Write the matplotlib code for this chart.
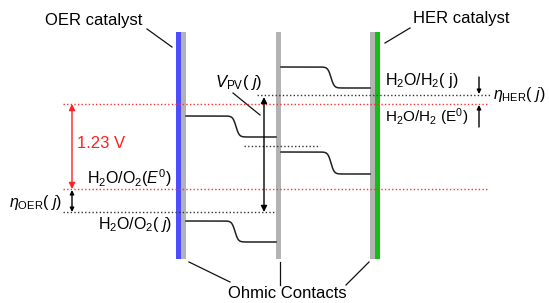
import numpy as np
import matplotlib.pyplot as plt
from matplotlib.patches import Rectangle

plt.rcParams['font.family'] = ['Liberation Sans', 'DejaVu Sans']
plt.rcParams['mathtext.fontset'] = 'custom'
plt.rcParams['mathtext.rm'] = 'Liberation Sans'
plt.rcParams['mathtext.it'] = 'Liberation Sans:italic'
plt.rcParams['mathtext.bf'] = 'Liberation Sans:bold'

# electrode / contact layers (pixel columns of the schematic)
layer_x = [176, 181, 276, 370, 375]
layer_w = [5, 5, 5, 5, 5]
layer_colors = ['#4d4dff', '#b3b3b3', '#b3b3b3', '#b3b3b3', '#12bf12']
layer_top, layer_bottom = 32, 259

# potential levels (rows, top = more negative)
y_her_j = 95      # H2O/H2 (j)
y_her_0 = 104     # H2O/H2 (E0)
y_oer_0 = 189     # H2O/O2 (E0)
y_oer_j = 212     # H2O/O2 (j)
y_mid = 146       # quasi-Fermi level between cells

# band edges: x start, x end, high level, low level, step centre
bands = [
    (186, 276, 116, 137, 236),
    (186, 276, 221, 242, 235),
    (281, 370, 67, 88, 331),
    (281, 370, 152, 174, 331),
]

red_dotted = [(63, 488, y_her_0), (63, 488, y_oer_0)]
black_dotted = [(257, 490, y_her_j), (63, 275, y_oer_j), (244, 320, y_mid)]

leaders = [
    ((147, 29), (172, 47)),
    ((410, 28), (385, 43)),
    ((233, 93), (260, 115)),
    ((189, 262), (230, 282)),
    ((280, 262), (280, 285)),
    ((369, 262), (346, 285)),
]

fig = plt.figure(figsize=(5.49, 3.03), dpi=100)
ax = fig.add_axes([0, 0, 1, 1])
ax.set_xlim(0, 549)
ax.set_ylim(303, 0)
ax.axis('off')

for x, w, c in zip(layer_x, layer_w, layer_colors):
    ax.add_patch(Rectangle((x, layer_top), w, layer_bottom - layer_top, color=c, lw=0, zorder=2))

for x0, x1, hi, lo, xc in bands:
    xs = np.linspace(x0, x1, 300)
    ys = hi + (lo - hi) * 0.5 * (1 + np.tanh((xs - xc) / 3.2))
    ax.plot(xs, ys, color='#222222', lw=1.1, zorder=3)

for x0, x1, y in red_dotted:
    ax.plot([x0, x1], [y, y], color='#ff3030', lw=1.0, ls=(0, (1, 1.6)), zorder=4)
for x0, x1, y in black_dotted:
    ax.plot([x0, x1], [y, y], color='#333333', lw=1.0, ls=(0, (1, 1.6)), zorder=4)

for (xa, ya), (xb, yb) in leaders:
    ax.plot([xa, xb], [ya, yb], color='#111111', lw=0.9, zorder=3)


def arrow(x, y_tail, y_tip, color='black', style='-|>', scale=8):
    ax.annotate('', xy=(x, y_tip), xytext=(x, y_tail),
                arrowprops=dict(arrowstyle=style, color=color, lw=1.0,
                                shrinkA=0, shrinkB=0, mutation_scale=scale),
                zorder=5)


arrow(264, 212, 97, style='<|-|>', scale=9)
arrow(72, y_oer_0, y_her_0, color='#ff2020', style='<|-|>', scale=9)
arrow(72, y_oer_j, y_oer_0 + 1, style='<|-|>', scale=6)
arrow(479, 77, y_her_j - 1, scale=6)
arrow(479, 127, y_her_0 + 1, scale=6)

fs = 12
ax.text(45, 20, 'OER catalyst', fontsize=fs, va='center', ha='left')
ax.text(413, 18, 'HER catalyst', fontsize=fs, va='center', ha='left')
ax.text(228, 294, 'Ohmic Contacts', fontsize=fs, va='center', ha='left')
ax.text(77, 143, '1.23 V', fontsize=fs, va='center', ha='left', color='#ff2020')
ax.text(62, 202, r'$\eta_{\rm OER}$( $j$)', fontsize=11.5, va='center', ha='right')
ax.text(215, 82, r'$V_{\rm PV}$( $j$)', fontsize=fs, va='center', ha='left')
ax.text(172, 178, r'H$_2$O/O$_2$($E^0$)', fontsize=11.5, va='center', ha='right')
ax.text(172, 225, r'H$_2$O/O$_2$( $j$)', fontsize=11.5, va='center', ha='right')
ax.text(385, 80, r'H$_2$O/H$_2$( j)', fontsize=11.5, va='center', ha='left')
ax.text(385, 117, r'H$_2$O/H$_2$ (E$^0$)', fontsize=11, va='center', ha='left')
ax.text(546, 95, r'$\eta_{\rm HER}$( $j$)', fontsize=11.5, va='center', ha='right')

fig.savefig('out.png', dpi=100)
